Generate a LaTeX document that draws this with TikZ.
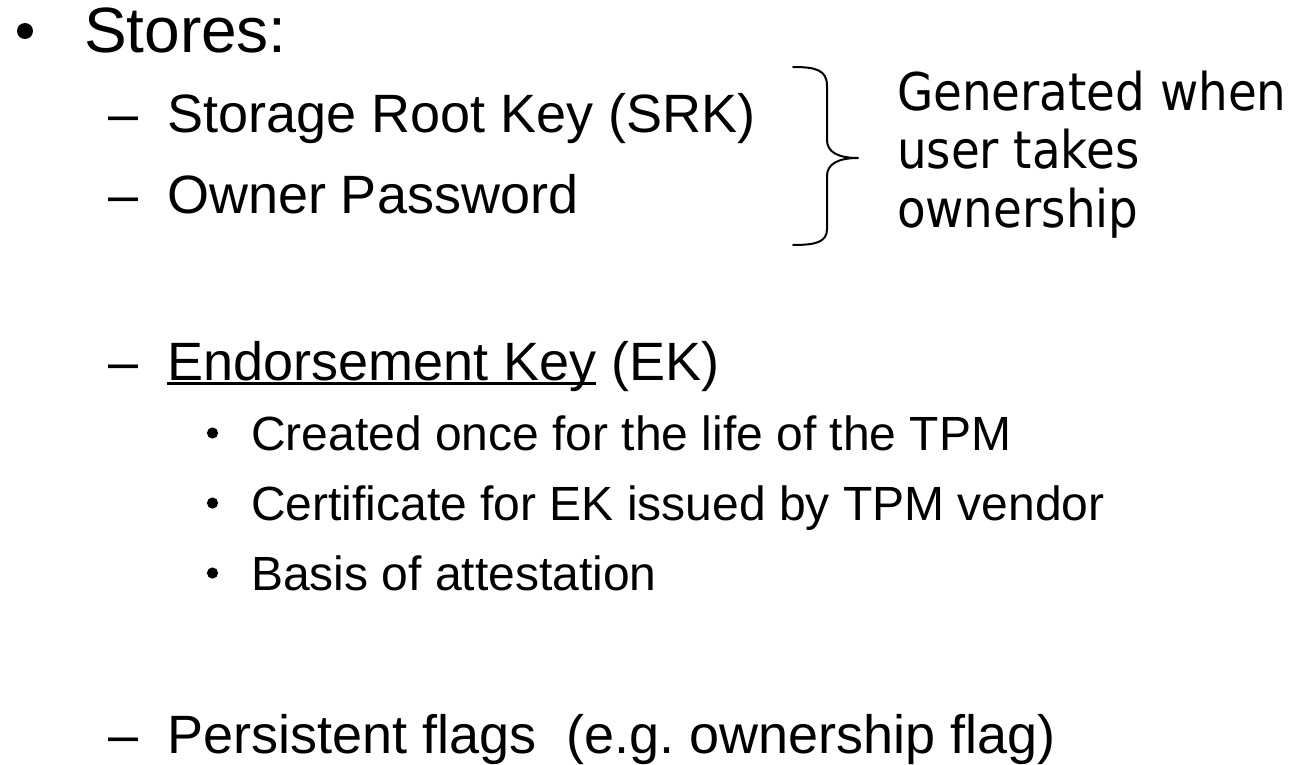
\documentclass[tikz,border=0pt]{standalone}
\usepackage{fontspec}
\setmainfont{Liberation Sans}
\newfontfamily\notefont[FakeStretch=0.9]{DejaVu Sans}
\frenchspacing
% underline that runs through the descenders, as in slide software
\newcommand\slideul[1]{\setbox0=\hbox{#1}\rlap{\rule[-2.4pt]{\wd0}{1.4pt}}\box0\relax}
\tikzset{
  txt/.style={inner sep=0pt, outer sep=0pt, anchor=base west},
  lvlone/.style={txt, font=\fontsize{32}{38}\selectfont},
  lvltwo/.style={txt, font=\fontsize{27}{32}\selectfont},
  lvlthree/.style={txt, font=\fontsize{24}{29}\selectfont},
  note/.style={txt, font=\notefont\fontsize{26}{31}\selectfont},
  bigdot/.style={circle, fill=black, inner sep=0pt, minimum size=8pt},
  smalldot/.style={circle, fill=black, inner sep=0pt, minimum size=5.6pt},
  brace/.style={line width=1pt, line cap=round, line join=round}
}
\begin{document}
\begin{tikzpicture}[x=0.5pt, y=-0.5pt]
\useasboundingbox (0,0) rectangle (1300,765);

% first level
\node[bigdot] (b1) at (25,31) {};
\node[lvlone] (stores) at (84,53) {Stores:};

% second level: owner data
\node[lvltwo] (d1) at (108,133) {–};
\node[lvltwo] (srk) at (167,133) {Storage Root Key (SRK)};
\node[lvltwo] (d2) at (108,213) {–};
\node[lvltwo] (pwd) at (167,213) {Owner Password};

% brace grouping the two owner items
\coordinate (bt) at (793,67);
\coordinate (bm) at (858,158);
\coordinate (bb) at (793,245);
\draw[brace] (bt) .. controls (816,67) and (827,70) .. (827,86)
  -- (827,140) .. controls (827,152) and (838,158) .. (bm)
  .. controls (838,158) and (827,164) .. (827,176)
  -- (827,229) .. controls (827,242) and (816,245) .. (bb);
\node[note] (n1) at (897,111) {Generated when};
\node[note] (n2) at (897,169) {user takes};
\node[note] (n3) at (897,227) {ownership};

% endorsement key
\node[lvltwo] (d3) at (108,380) {–};
\node[lvltwo] (ek) at (167,380) {\slideul{Endorsement Key} (EK)};

\node[smalldot] (s1) at (212.5,433) {};
\node[lvlthree] (c1) at (251,450) {Created once for the life of the TPM};
\node[smalldot] (s2) at (212.5,503) {};
\node[lvlthree] (c2) at (251,520) {Certificate for EK issued by TPM vendor};
\node[smalldot] (s3) at (212.5,573) {};
\node[lvlthree] (c3) at (251,590) {Basis of attestation};

% persistent flags
\node[lvltwo] (d4) at (108,753) {–};
\node[lvltwo] (pf) at (167,753) {Persistent flags~ (e.g. ownership flag)};
\end{tikzpicture}
\end{document}
